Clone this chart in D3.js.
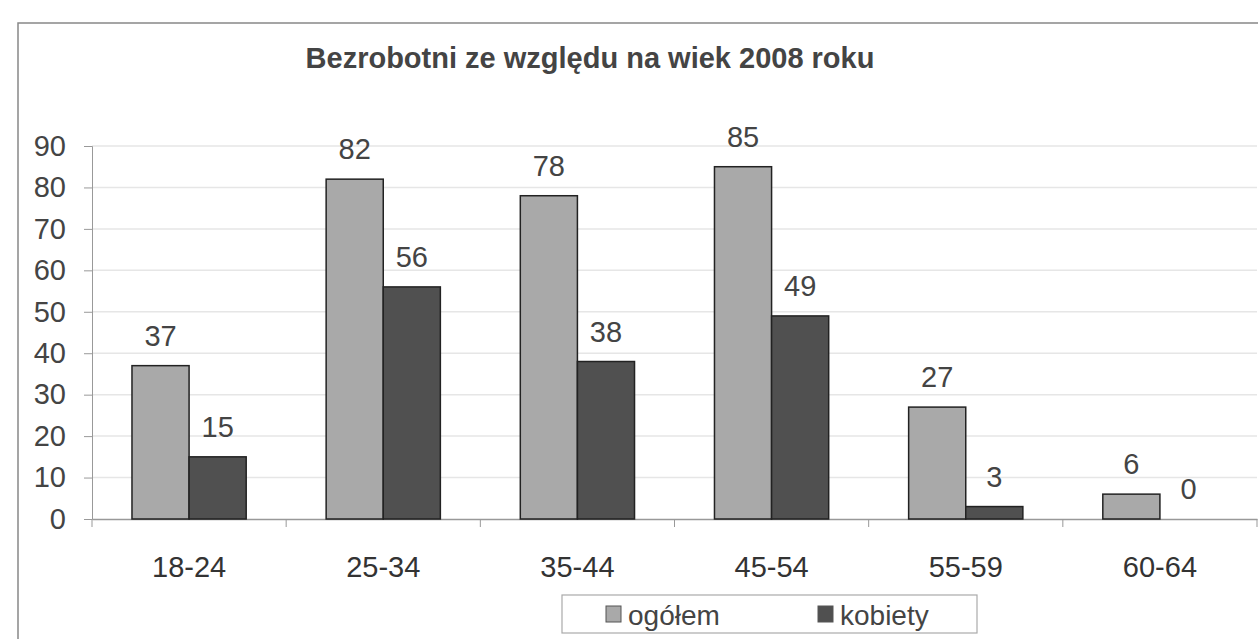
<!DOCTYPE html>
<html><head><meta charset="utf-8">
<script src="https://cdn.jsdelivr.net/npm/d3@7"></script>
<style>body{margin:0;background:#fff}svg{display:block}text{font-family:"Liberation Sans",Arial,sans-serif}</style>
</head><body>
<svg id="c" width="1258" height="639"></svg>
<script>
const categories = ["18-24","25-34","35-44","45-54","55-59","60-64"];
const ogolem = [37,82,78,85,27,6];
const kobiety = [15,56,38,49,3,0];
const seriesNames = ["ogółem","kobiety"];
const yTicks = [0,10,20,30,40,50,60,70,80,90];

const svg = d3.select("#c");
const m = {left:92, right:1257, top:146, bottom:519};
const colors = ["#a9a9a9","#505050"];

// frame
svg.append("path").attr("d","M18,639 L18,23 L1258,23").attr("fill","none").attr("stroke","#888").attr("stroke-width",1.5);

const x = d3.scaleBand().domain(categories).range([m.left,m.right]).paddingInner(0).paddingOuter(0);
const x1 = d3.scaleBand().domain(seriesNames).range([0,x.bandwidth()]).paddingInner(0).paddingOuter(0.7);
const y = d3.scaleLinear().domain([0,90]).range([m.bottom,m.top]);

// gridlines
svg.append("g").selectAll("line").data(yTicks.filter(d=>d>0)).join("line")
  .attr("x1",m.left).attr("x2",m.right).attr("y1",d=>y(d)).attr("y2",d=>y(d))
  .attr("stroke","#e6e6e6").attr("stroke-width",1.5);

// y axis
const ya = svg.append("g").attr("transform",`translate(${m.left},0)`)
  .call(d3.axisLeft(y).tickValues(yTicks).tickSize(8).tickPadding(18));
ya.select(".domain").attr("stroke","#999");
ya.selectAll(".tick line").attr("stroke","#999");
ya.selectAll("text").attr("font-size",29).attr("fill","#444");

// x axis
const xa = svg.append("g").attr("transform",`translate(0,${m.bottom})`)
  .call(d3.axisBottom(x).tickSize(0).tickPadding(37));
xa.select(".domain").attr("stroke","#999").attr("stroke-width",1.5);
xa.selectAll("text").attr("font-size",29).attr("fill","#333");
svg.append("g").selectAll("line").data(categories.concat(["end"])).join("line")
  .attr("x1",(d,i)=>m.left+i*x.bandwidth()).attr("x2",(d,i)=>m.left+i*x.bandwidth())
  .attr("y1",m.bottom).attr("y2",m.bottom+8).attr("stroke","#999");

const data = [ogolem,kobiety];
data.forEach((vals,si)=>{
  const g = svg.append("g");
  g.selectAll("rect").data(vals).join("rect")
    .attr("x",(d,i)=>x(categories[i])+x1(seriesNames[si]))
    .attr("y",d=>y(d)).attr("width",x1.bandwidth()).attr("height",d=>y(0)-y(d))
    .attr("fill",colors[si]).attr("stroke",d=>d>0?"#222":"none").attr("stroke-width",1.5);
  g.selectAll("text").data(vals).join("text")
    .attr("x",(d,i)=>x(categories[i])+x1(seriesNames[si])+x1.bandwidth()/2)
    .attr("y",d=>y(d)-20).attr("text-anchor","middle")
    .attr("font-size",29).attr("fill","#444").text(d=>d);
});

// title
svg.append("text").attr("x",590).attr("y",68).attr("text-anchor","middle")
  .attr("font-size",29).attr("font-weight","bold").attr("fill","#444")
  .text("Bezrobotni ze względu na wiek 2008 roku");

// legend
const lg = svg.append("g");
lg.append("rect").attr("x",562).attr("y",595).attr("width",415).attr("height",38)
  .attr("fill","#fff").attr("stroke","#aaa").attr("stroke-width",1.2);
const lx = [606,818];
seriesNames.forEach((n,i)=>{
  lg.append("rect").attr("x",lx[i]).attr("y",606).attr("width",15).attr("height",16)
    .attr("fill",colors[i]).attr("stroke","#555");
  lg.append("text").attr("x",lx[i]+22).attr("y",625).attr("font-size",28).attr("fill","#444").text(n);
});
</script>
</body></html>
